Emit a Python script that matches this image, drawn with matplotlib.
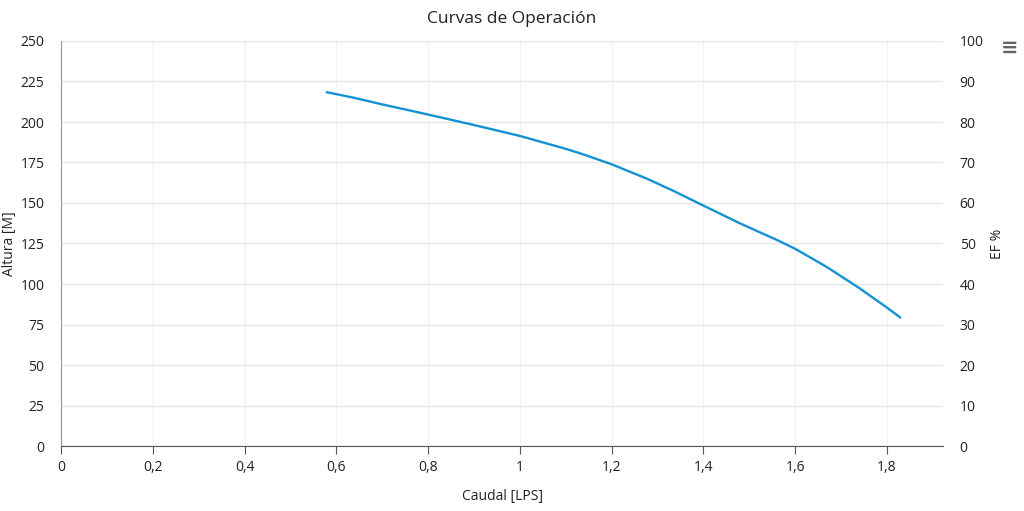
import matplotlib
matplotlib.use("Agg")
import matplotlib.pyplot as plt
from matplotlib.ticker import FuncFormatter

# Curva de altura
caudal = [0.579, 0.636, 0.698, 0.80, 0.893, 1.00, 1.098, 1.132, 1.20, 1.276,
          1.333, 1.40, 1.477, 1.523, 1.563, 1.60, 1.667, 1.739, 1.80, 1.829]
altura = [218.4, 215.1, 211.0, 204.6, 198.6, 191.4, 183.6, 180.6, 173.9, 165.1,
          157.7, 148.4, 137.8, 131.9, 126.8, 121.7, 110.8, 97.6, 85.4, 79.3]

x_ticks = [0, 0.2, 0.4, 0.6, 0.8, 1.0, 1.2, 1.4, 1.6, 1.8]
y_ticks = list(range(0, 251, 25))
ef_ticks = list(range(0, 101, 10))

plt.rcParams['font.family'] = ['Open Sans', 'DejaVu Sans']

fig = plt.figure(figsize=(10.24, 5.11), dpi=100)
ax = fig.add_axes([61 / 1024, 65 / 511, 882 / 1024, 405 / 511])
ax2 = ax.twinx()

ax.plot(caudal, altura, color="#1591d5", linewidth=1.7, solid_capstyle="round",
        solid_joinstyle="round")

ax.set_xlim(0, 1.922)
ax.set_ylim(0, 250)
ax2.set_ylim(0, 100)

ax.set_xticks(x_ticks)
ax.set_yticks(y_ticks)
ax2.set_yticks(ef_ticks)
ax.xaxis.set_major_formatter(FuncFormatter(lambda v, p: ("%g" % v).replace(".", ",")))

ax.grid(axis="y", color="#e6e6e6", linewidth=1)
ax.grid(axis="x", color="#f2f2f2", linewidth=1)
ax.set_axisbelow(True)

for s in ["top", "right"]:
    ax.spines[s].set_visible(False)
for s in ["top", "right", "left", "bottom"]:
    ax2.spines[s].set_visible(False)
ax.spines["left"].set_color("#999999")
ax.spines["bottom"].set_color("#555555")

ax.tick_params(axis="y", length=0, pad=12, labelsize=10, labelcolor="#222222")
ax.tick_params(axis="x", length=6, color="#555555", pad=4, labelsize=10, labelcolor="#222222")
ax2.tick_params(axis="y", length=0, pad=12, labelsize=10, labelcolor="#222222")

ax.set_xlabel("Caudal [LPS]", fontsize=10, color="#222222", labelpad=10)
ax.set_ylabel("Altura [M]", fontsize=10, color="#222222", va="center")
ax2.set_ylabel("EF %", fontsize=10, color="#222222", va="center")
ax.yaxis.set_label_coords(-0.058, 0.5)
ax2.yaxis.set_label_coords(1.062, 0.5)

fig.text(0.5, 1 - 19 / 511, "Curvas de Operación", ha="center", va="center",
         fontsize=12.5, color="#222222")
fig.text(1010 / 1024, 1 - 48 / 511, "≡", ha="center", va="center",
         fontsize=15, color="#666666", family="DejaVu Sans", fontweight="bold")

fig.savefig("out.png", dpi=100)
